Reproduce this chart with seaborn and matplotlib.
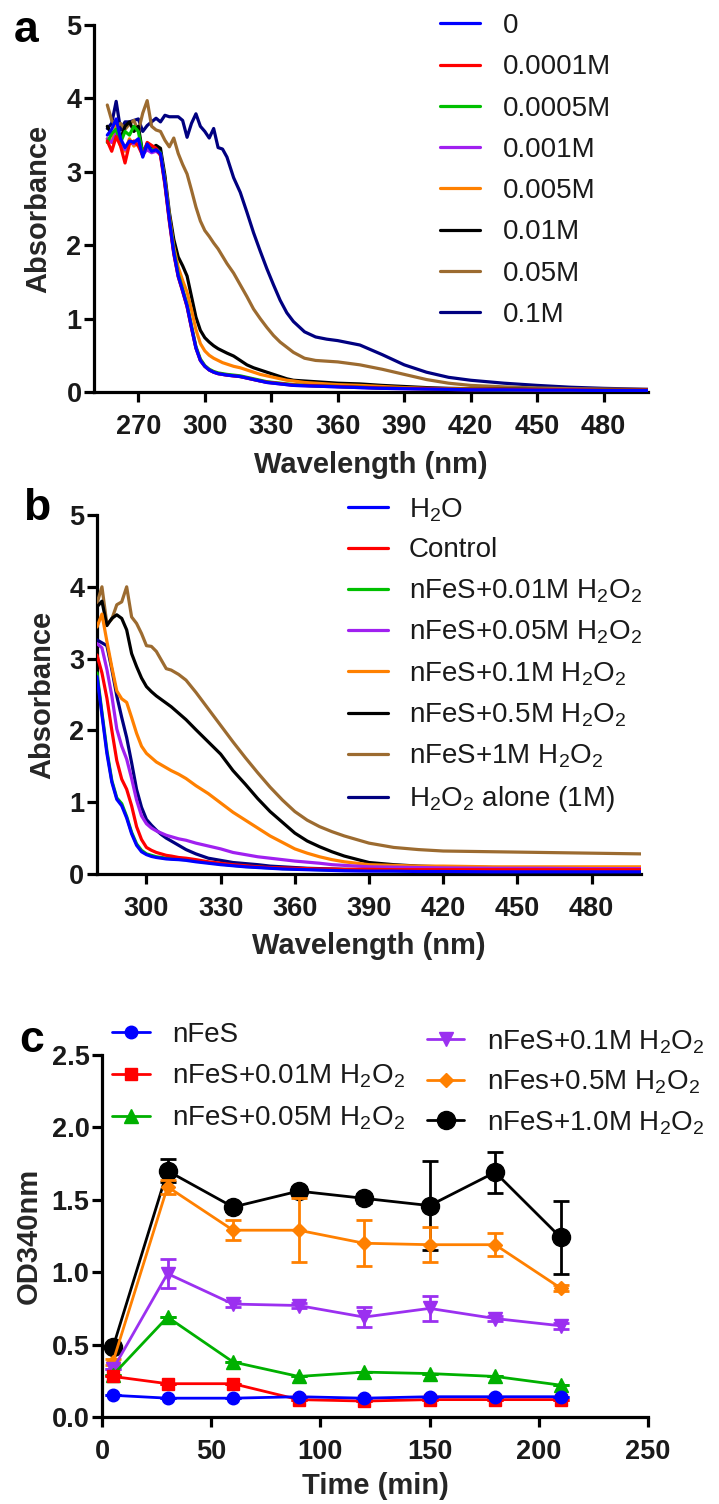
import matplotlib
matplotlib.use("Agg")
import matplotlib.pyplot as plt
import seaborn as sns
from matplotlib.lines import Line2D
from matplotlib.ticker import FormatStrFormatter

# ---------------- Panel a data ----------------
wl_a = [256, 258, 260, 262, 264, 266, 268, 270, 272, 274, 276, 278, 280, 282, 284, 286, 288, 290,
        292, 294, 296, 298, 300, 302, 304, 306, 308, 310, 313, 316, 319, 322, 325, 328, 331, 334,
        337, 340, 345, 350, 355, 360, 370, 380, 390, 400, 410, 420, 435, 450, 465, 480, 500]

a_0 = [3.50, 3.58, 3.72, 3.45, 3.33, 3.42, 3.40, 3.45, 3.20, 3.38, 3.28, 3.30, 3.25, 2.85, 2.35, 1.90,
       1.58, 1.38, 1.17, 0.88, 0.60, 0.43, 0.35, 0.30, 0.27, 0.25, 0.24, 0.23,
       0.22, 0.21, 0.19, 0.17, 0.15, 0.13, 0.12, 0.11, 0.10, 0.09,
       0.085, 0.08, 0.075, 0.07,
       0.06, 0.05, 0.045, 0.04, 0.035, 0.03,
       0.03, 0.025, 0.025, 0.02, 0.02]
a_00001 = [3.42, 3.28, 3.48, 3.35, 3.12, 3.38, 3.42, 3.35, 3.22, 3.40, 3.36, 3.32, 3.22, 2.82, 2.32, 1.88,
           1.57, 1.37, 1.16, 0.87, 0.60, 0.43, 0.35, 0.30, 0.27, 0.25, 0.24, 0.23,
           0.22, 0.21, 0.19, 0.17, 0.15, 0.135, 0.125, 0.115, 0.105, 0.095,
           0.09, 0.085, 0.08, 0.075,
           0.065, 0.055, 0.05, 0.045, 0.04, 0.035,
           0.035, 0.03, 0.03, 0.025, 0.025]
a_00005 = [3.40, 3.52, 3.58, 3.40, 3.55, 3.50, 3.62, 3.55, 3.25, 3.36, 3.30, 3.31, 3.26, 2.86, 2.37, 1.93,
           1.61, 1.40, 1.19, 0.90, 0.62, 0.45, 0.36, 0.31, 0.28, 0.26, 0.25, 0.24,
           0.23, 0.22, 0.20, 0.18, 0.16, 0.14, 0.13, 0.12, 0.11, 0.10,
           0.09, 0.085, 0.08, 0.075,
           0.065, 0.055, 0.05, 0.045, 0.04, 0.035,
           0.03, 0.03, 0.025, 0.025, 0.02]
a_0001 = [3.45, 3.40, 3.52, 3.38, 3.30, 3.40, 3.38, 3.42, 3.24, 3.30, 3.26, 3.28, 3.24, 2.84, 2.34, 1.90,
          1.58, 1.38, 1.17, 0.88, 0.60, 0.43, 0.35, 0.30, 0.27, 0.25, 0.24, 0.23,
          0.22, 0.21, 0.19, 0.17, 0.15, 0.13, 0.12, 0.11, 0.10, 0.09,
          0.085, 0.08, 0.075, 0.07,
          0.06, 0.05, 0.045, 0.04, 0.035, 0.03,
          0.03, 0.025, 0.025, 0.02, 0.02]
a_0005 = [3.45, 3.40, 3.62, 3.35, 3.28, 3.45, 3.35, 3.40, 3.22, 3.35, 3.28, 3.30, 3.25, 2.88, 2.40, 1.98,
          1.70, 1.52, 1.36, 1.12, 0.85, 0.66, 0.56, 0.50, 0.46, 0.43, 0.40, 0.38,
          0.35, 0.33, 0.30, 0.27, 0.24, 0.22, 0.20, 0.18, 0.16, 0.15,
          0.13, 0.12, 0.11, 0.10,
          0.09, 0.075, 0.06, 0.05, 0.045, 0.04,
          0.035, 0.03, 0.03, 0.025, 0.02]
a_001 = [3.62, 3.50, 3.57, 3.45, 3.62, 3.68, 3.55, 3.62, 3.25, 3.38, 3.32, 3.36, 3.32, 2.95, 2.45, 2.08,
         1.84, 1.72, 1.58, 1.30, 1.02, 0.84, 0.74, 0.68, 0.63, 0.59, 0.56, 0.53,
         0.49, 0.43, 0.37, 0.33, 0.30, 0.27, 0.24, 0.21, 0.18, 0.16,
         0.15, 0.14, 0.13, 0.12,
         0.11, 0.09, 0.075, 0.06, 0.05, 0.045,
         0.04, 0.035, 0.03, 0.03, 0.025]
a_005 = [3.91, 3.70, 3.62, 3.66, 3.58, 3.65, 3.70, 3.55, 3.80, 3.97, 3.62, 3.57, 3.55, 3.43, 3.34, 3.46,
         3.25, 3.10, 2.97, 2.75, 2.52, 2.33, 2.20, 2.12, 2.03, 1.95, 1.85, 1.75,
         1.62, 1.46, 1.30, 1.13, 1.00, 0.88, 0.77, 0.68, 0.61, 0.54,
         0.46, 0.43, 0.42, 0.41,
         0.37, 0.31, 0.24, 0.17, 0.12, 0.09,
         0.07, 0.055, 0.045, 0.04, 0.035]
a_01 = [3.59, 3.66, 3.96, 3.57, 3.68, 3.68, 3.70, 3.72, 3.55, 3.63, 3.68, 3.73, 3.68, 3.77, 3.75, 3.75,
        3.75, 3.70, 3.47, 3.66, 3.79, 3.62, 3.55, 3.46, 3.59, 3.33, 3.31, 3.20,
        2.92, 2.72, 2.45, 2.17, 1.92, 1.68, 1.46, 1.25, 1.08, 0.96,
        0.82, 0.75, 0.72, 0.70,
        0.64, 0.51, 0.37, 0.27, 0.20, 0.16,
        0.12, 0.09, 0.065, 0.05, 0.036]

labels_a = ["0", "0.0001M", "0.0005M", "0.001M", "0.005M", "0.01M", "0.05M", "0.1M"]
series_a = [a_0, a_00001, a_00005, a_0001, a_0005, a_001, a_005, a_01]

# ---------------- Panel b data ----------------
wl_b = [280, 282, 284, 286, 288, 290, 292, 294, 296, 298, 300, 302, 304, 306, 308, 310, 313, 316,
        320, 325, 330, 335, 340, 345, 350, 355, 360, 365, 370, 375, 380, 390, 400, 410, 420,
        440, 460, 480, 500]

b_h2o = [2.75, 2.22, 1.68, 1.28, 1.04, 0.95, 0.78, 0.56, 0.40, 0.31, 0.27, 0.245, 0.23, 0.22, 0.21, 0.205,
         0.20, 0.19, 0.17, 0.15, 0.13, 0.115, 0.10, 0.09, 0.08, 0.07, 0.065, 0.06, 0.055, 0.05, 0.045,
         0.04, 0.04, 0.035, 0.035, 0.03, 0.03, 0.03, 0.03]
b_control = [3.05, 2.80, 2.45, 2.00, 1.58, 1.32, 1.18, 0.95, 0.66, 0.48, 0.37, 0.33, 0.30, 0.28, 0.26, 0.25,
             0.23, 0.22, 0.20, 0.17, 0.15, 0.13, 0.115, 0.10, 0.09, 0.085, 0.08, 0.075, 0.07, 0.07, 0.065,
             0.065, 0.06, 0.06, 0.06, 0.06, 0.06, 0.06, 0.06]
b_001 = [2.80, 2.25, 1.72, 1.30, 1.06, 0.98, 0.80, 0.58, 0.42, 0.33, 0.28, 0.26, 0.24, 0.23, 0.22, 0.215,
         0.205, 0.20, 0.18, 0.16, 0.14, 0.12, 0.105, 0.095, 0.085, 0.075, 0.07, 0.065, 0.06, 0.055, 0.05,
         0.05, 0.045, 0.045, 0.04, 0.04, 0.04, 0.04, 0.04]
b_005 = [3.21, 3.15, 2.85, 2.48, 2.02, 1.78, 1.60, 1.33, 1.03, 0.81, 0.70, 0.64, 0.60, 0.57, 0.54, 0.52,
         0.49, 0.47, 0.43, 0.39, 0.35, 0.30, 0.27, 0.24, 0.22, 0.20, 0.18, 0.165, 0.15, 0.13, 0.12,
         0.10, 0.095, 0.09, 0.085, 0.08, 0.08, 0.075, 0.075]
b_01 = [3.44, 3.62, 3.24, 2.88, 2.55, 2.44, 2.39, 2.18, 1.96, 1.78, 1.68, 1.62, 1.56, 1.52, 1.48, 1.44,
        1.39, 1.33, 1.23, 1.12, 0.99, 0.86, 0.75, 0.64, 0.53, 0.44, 0.35, 0.29, 0.24, 0.20, 0.17,
        0.13, 0.12, 0.11, 0.11, 0.10, 0.10, 0.10, 0.10]
b_05 = [3.72, 3.80, 3.46, 3.56, 3.61, 3.56, 3.40, 3.07, 2.89, 2.73, 2.61, 2.54, 2.48, 2.43, 2.38, 2.33,
        2.24, 2.15, 2.01, 1.84, 1.67, 1.44, 1.25, 1.05, 0.87, 0.72, 0.57, 0.46, 0.38, 0.31, 0.25,
        0.16, 0.13, 0.11, 0.10, 0.09, 0.085, 0.08, 0.08]
b_1 = [3.77, 4.00, 3.48, 3.55, 3.75, 3.79, 4.00, 3.58, 3.49, 3.35, 3.18, 3.17, 3.10, 2.98, 2.86, 2.84,
       2.78, 2.70, 2.53, 2.30, 2.07, 1.84, 1.62, 1.41, 1.21, 1.03, 0.87, 0.75, 0.66, 0.59, 0.53,
       0.43, 0.37, 0.34, 0.32, 0.31, 0.30, 0.29, 0.28]
b_h2o2 = [3.26, 3.22, 3.18, 2.85, 2.48, 2.18, 1.90, 1.55, 1.18, 0.93, 0.76, 0.68, 0.61, 0.55, 0.50, 0.46,
          0.40, 0.34, 0.28, 0.22, 0.19, 0.16, 0.145, 0.13, 0.11, 0.10, 0.09, 0.08, 0.075, 0.07, 0.065,
          0.06, 0.055, 0.05, 0.05, 0.045, 0.045, 0.04, 0.04]

labels_b = ["H$_2$O", "Control", "nFeS+0.01M H$_2$O$_2$", "nFeS+0.05M H$_2$O$_2$",
            "nFeS+0.1M H$_2$O$_2$", "nFeS+0.5M H$_2$O$_2$", "nFeS+1M H$_2$O$_2$",
            "H$_2$O$_2$ alone (1M)"]
series_b = [b_h2o, b_control, b_001, b_005, b_01, b_05, b_1, b_h2o2]

# ---------------- Panel c data ----------------
time_c = [5, 30, 60, 90, 120, 150, 180, 210]
c_nfes = [0.15, 0.13, 0.13, 0.14, 0.13, 0.14, 0.14, 0.14]
c_001 = [0.28, 0.23, 0.23, 0.12, 0.11, 0.12, 0.12, 0.12]
c_005 = [0.29, 0.69, 0.38, 0.28, 0.31, 0.30, 0.28, 0.22]
c_01 = [0.33, 0.99, 0.78, 0.77, 0.69, 0.75, 0.68, 0.63]
c_05 = [0.38, 1.59, 1.29, 1.29, 1.20, 1.19, 1.19, 0.89]
c_10 = [0.48, 1.70, 1.45, 1.56, 1.51, 1.46, 1.69, 1.24]
err_nfes = [0, 0, 0, 0, 0, 0, 0, 0]
err_001 = [0, 0, 0, 0, 0, 0, 0, 0]
err_005 = [0, 0, 0, 0, 0, 0, 0, 0]
err_01 = [0, 0.10, 0.02, 0.02, 0.07, 0.085, 0.02, 0.02]
err_05 = [0.02, 0.05, 0.07, 0.22, 0.16, 0.12, 0.08, 0.02]
err_10 = [0.02, 0.08, 0.03, 0.03, 0.03, 0.31, 0.14, 0.25]
labels_c = ["nFeS", "nFeS+0.01M H$_2$O$_2$", "nFeS+0.05M H$_2$O$_2$",
            "nFeS+0.1M H$_2$O$_2$", "nFes+0.5M H$_2$O$_2$", "nFeS+1.0M H$_2$O$_2$"]
series_c = [c_nfes, c_001, c_005, c_01, c_05, c_10]
errors_c = [err_nfes, err_001, err_005, err_01, err_05, err_10]

# ---------------- styles ----------------
colors_a = ["#0000FF", "#FF0000", "#00C000", "#A020F0", "#FF8000", "#000000", "#9C6B30", "#000080"]
colors_b = ["#0000FF", "#FF0000", "#00C000", "#A020F0", "#FF8000", "#000000", "#9C6B30", "#000080"]
colors_c = ["#0000FF", "#FF0000", "#00B000", "#9B30F0", "#FF8000", "#000000"]
markers_c = ["o", "s", "^", "v", "D", "o"]
msize_c = [9, 9, 9.5, 9.5, 7, 13]

W, H = 719, 1504
sns.set_style("ticks")
plt.rcParams["font.family"] = ["Liberation Sans", "DejaVu Sans"]
plt.rcParams["mathtext.fontset"] = "custom"
plt.rcParams["mathtext.rm"] = "Liberation Sans"
plt.rcParams["mathtext.it"] = "Liberation Sans:italic"
plt.rcParams["mathtext.bf"] = "Liberation Sans:bold"
plt.rcParams["mathtext.default"] = "regular"
plt.rcParams["text.color"] = "#1a1a1a"

fig = plt.figure(figsize=(W / 100, H / 100), dpi=100)


def axes_px(left, top, right, bottom):
    return fig.add_axes([left / W, 1 - bottom / H, (right - left) / W, (bottom - top) / H])


ax_a = axes_px(94, 25, 648, 392)
ax_b = axes_px(97, 515, 641, 874)
ax_c = axes_px(102, 1055, 648, 1417)

LW = 2.3


def style_axes(ax, xticks, yticks, xlim, ylim, xlabel, ylabel, xlab_y, ylab_x, yfmt=None):
    ax.set_xlim(*xlim)
    ax.set_ylim(*ylim)
    ax.set_xticks(xticks)
    ax.set_yticks(yticks)
    if yfmt:
        ax.yaxis.set_major_formatter(FormatStrFormatter(yfmt))
    sns.despine(ax=ax)
    for s in ["left", "bottom"]:
        ax.spines[s].set_linewidth(LW)
        ax.spines[s].set_color("black")
    ax.tick_params(axis="both", direction="out", length=7, width=LW, color="black",
                   labelsize=19.5, labelcolor="#1a1a1a")
    ax.tick_params(axis="x", pad=9)
    ax.tick_params(axis="y", pad=2)
    for lab in ax.get_xticklabels() + ax.get_yticklabels():
        lab.set_fontweight("bold")
    ax.set_xlabel(xlabel, fontsize=21, fontweight="bold")
    ax.set_ylabel(ylabel, fontsize=21, fontweight="bold")
    ax.xaxis.label.set_va("center")
    ax.yaxis.label.set_va("center")
    ax.xaxis.set_label_coords(0.5, xlab_y)
    ax.yaxis.set_label_coords(ylab_x, 0.5)
    ax.grid(False)


def legend_px(ax, handles, labels, left, top, **kw):
    leg = ax.legend(handles, labels, loc="upper left",
                    bbox_to_anchor=(left / W, 1 - top / H), bbox_transform=fig.transFigure,
                    frameon=False, borderpad=0, borderaxespad=0, fontsize=20,
                    **kw)
    return leg


# ---- Panel a ----
n = len(series_a)
for i, (vals, col) in enumerate(zip(series_a, colors_a)):
    sns.lineplot(x=wl_a, y=vals, color=col, linewidth=LW, errorbar=None, ax=ax_a,
                 zorder=3 + (n - i) * 0.1)
style_axes(ax_a, [270, 300, 330, 360, 390, 420, 450, 480], [0, 1, 2, 3, 4, 5],
           (250, 500), (0, 5), "Wavelength (nm)", "Absorbance", -0.199, -0.101)
h_a = [Line2D([], [], color=c, lw=LW) for c in colors_a]
legend_px(ax_a, h_a, labels_a, 440, 13, handlelength=1.45, handletextpad=0.8, labelspacing=0.55)

# ---- Panel b ----
n = len(series_b)
for i, (vals, col) in enumerate(zip(series_b, colors_b)):
    sns.lineplot(x=wl_b, y=vals, color=col, linewidth=LW, errorbar=None, ax=ax_b,
                 zorder=3 + (n - i) * 0.1)
style_axes(ax_b, [300, 330, 360, 390, 420, 450, 480], [0, 1, 2, 3, 4, 5],
           (280, 500), (0, 5), "Wavelength (nm)", "Absorbance", -0.2, -0.101)
h_b = [Line2D([], [], color=c, lw=LW) for c in colors_b]
legend_px(ax_b, h_b, labels_b, 348, 496, handlelength=1.45, handletextpad=0.75, labelspacing=0.5)

# ---- Panel c ----
n = len(series_c)
for i, (vals, err, col, mk, ms) in enumerate(zip(series_c, errors_c, colors_c, markers_c, msize_c)):
    z = 3 + (n - i)
    ax_c.errorbar(time_c, vals, yerr=err, fmt="none", ecolor=col, elinewidth=2,
                  capsize=6, capthick=2, zorder=z - 0.5)
    sns.lineplot(x=time_c, y=vals, color=col, linewidth=2, marker=mk, markersize=ms,
                 markeredgecolor=col, markeredgewidth=1, errorbar=None, ax=ax_c, zorder=z)
style_axes(ax_c, [0, 50, 100, 150, 200, 250], [0.0, 0.5, 1.0, 1.5, 2.0, 2.5],
           (0, 250), (0, 2.5), "Time (min)", "OD340nm", -0.19, -0.135, yfmt="%.1f")
h_c = [Line2D([], [], color=c, lw=2, marker=m, markersize=s, markeredgecolor=c)
       for c, m, s in zip(colors_c, markers_c, msize_c)]
leg1 = legend_px(ax_c, h_c[:3], labels_c[:3], 112, 1022, handlelength=1.35,
                 handletextpad=0.8, labelspacing=0.53, numpoints=1)
ax_c.add_artist(leg1)
legend_px(ax_c, h_c[3:], labels_c[3:], 427, 1028, handlelength=1.35,
          handletextpad=0.8, labelspacing=0.47, numpoints=1)

# panel letters
for letter, x, y in [("a", 26, 30), ("b", 37, 508), ("c", 32, 1040)]:
    fig.text(x / W, 1 - y / H, letter, fontsize=32, fontweight="bold", ha="center", va="center",
             color="black")

fig.savefig("out.png", dpi=100)
